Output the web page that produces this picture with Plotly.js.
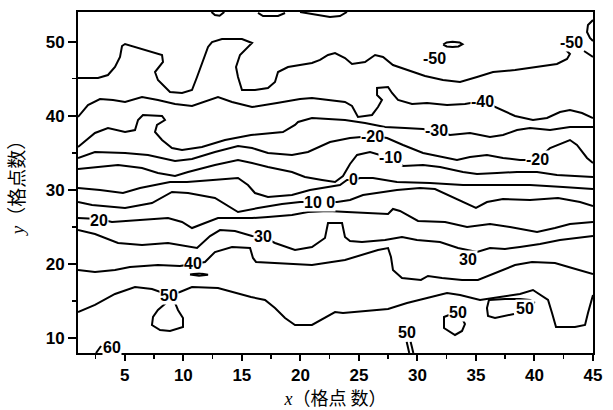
<!DOCTYPE html>
<html><head><meta charset="utf-8">
<script src="https://cdn.plot.ly/plotly-3.0.1.min.js"></script>
<style>html,body{margin:0;padding:0;background:#fff}</style>
</head><body><div id="chart" style="width:613px;height:410px"></div>
<script>
// Contour lines: [x, y] in grid units (null = gap)
const levelM50 = [[1.0,45.1],[2.71,45.1],[3.56,45.5],[4.16,46.58],[4.59,47.93],[4.76,49.41],[5.02,49.68],[6.72,48.87],[8.18,48.2],[8.26,47.26],[7.58,45.9],[7.83,44.83],[8.86,43.21],[9.89,43.07],[10.74,43.48],[11.17,45.23],[11.59,47.12],[12.11,49.28],[12.45,49.95],[13.3,50.36],[15.01,50.36],[15.87,49.82],[14.84,48.2],[14.5,46.58],[14.67,45.23],[15.01,43.48],[16.12,43.48],[17.23,43.75],[17.83,44.56],[18.09,45.9],[18.94,46.58],[19.97,46.85],[20.99,47.12],[21.68,47.53],[22.36,48.2],[22.96,48.47],[23.81,47.79],[24.41,46.99],[25.52,47.26],[26.38,48.2],[27.06,47.93],[27.91,46.85],[29.11,46.17],[30.65,45.37],[32.18,44.83],[33.64,44.56],[35.09,45.23],[36.46,45.9],[38.34,46.17],[40.73,46.72],[41.92,46.99],[42.78,47.66],[43.03,48.33],[42.69,48.87],[42.35,49.14],null,[44.23,48.74],[45.0,47.93]];
const levelM40 = [[1.0,39.84],[1.85,41.45],[2.88,42.26],[3.99,42.13],[5.02,41.86],[6.47,42.53],[7.83,42.13],[9.29,41.59],[10.74,41.32],[12.96,42.53],[14.16,41.86],[15.87,41.18],[18.0,41.72],[19.97,42.26],[20.99,42.4],[23.81,41.86],[24.41,41.32],[24.67,40.51],[24.92,39.84],[26.12,40.11],[26.63,41.18],[26.97,42.13],[26.55,42.8],[26.55,43.75],[27.49,43.88],[27.83,43.07],[28.34,42.13],[29.54,41.59],[30.82,41.72],[32.53,41.45],[34.06,41.59],[35.52,41.99],[37.23,40.78],[38.34,39.97],[39.87,39.43],[41.07,39.7],[42.18,40.51],[43.03,40.78],[44.06,40.38],[45.0,39.7]];
const levelM30 = [[1.0,35.79],[2.45,37.68],[3.56,38.35],[5.02,37.81],[5.87,38.08],[6.13,39.43],[6.55,40.11],[8.18,39.97],[8.43,39.43],[7.75,38.76],[7.58,37.81],[8.18,36.73],[9.03,35.65],[9.89,35.38],[11.59,35.79],[13.56,36.73],[15.78,37.41],[18.51,37.81],[19.54,38.76],[19.8,39.16],[20.99,39.7],[23.81,39.43],[25.52,39.03],[27.23,38.49],[28.94,38.35],[30.48,38.22],[31.59,37.95],[32.78,37.41],[34.49,37.68],[36.2,37.14],[37.31,37.41],[38.51,38.08],[39.62,38.35],[41.33,38.08],[43.03,38.49],[45.0,38.49]];
const levelM20 = [[1.0,34.31],[2.45,35.11],[5.02,34.98],[6.98,34.71],[9.29,33.9],[10.74,34.17],[12.7,35.11],[14.67,35.92],[15.87,35.65],[17.23,34.98],[19.28,34.71],[20.65,35.11],[22.53,36.46],[24.24,37.0],[26.2,37.27],[27.4,37.0],[28.77,36.06],[30.48,34.98],[33.38,34.04],[34.49,34.44],[35.94,34.71],[37.31,34.31],[38.76,34.04],[40.22,34.04],[41.33,35.65],[43.03,36.73],[43.63,36.06],[44.49,34.31],[45.0,33.63]];
const levelM10 = [[1.0,32.82],[2.45,33.09],[4.42,33.36],[6.47,32.96],[7.83,32.28],[9.29,31.88],[10.4,32.42],[12.7,33.36],[14.67,34.04],[15.87,33.63],[17.23,33.09],[19.28,32.42],[20.39,31.74],[21.85,31.34],[22.96,31.07],[23.64,31.88],[24.24,33.5],[24.84,34.71],[25.95,35.11],[27.66,34.31],[28.77,33.23],[30.48,33.36],[31.93,33.09],[33.89,32.42],[35.09,32.15],[36.8,32.28],[38.51,32.42],[40.22,32.42],[41.92,32.01],[45.0,31.74]];
const level0 = [[1.0,30.26],[2.88,29.99],[4.84,29.58],[6.3,30.26],[8.86,31.07],[10.31,31.07],[12.53,31.34],[14.67,31.61],[15.52,30.66],[16.12,29.58],[17.23,29.04],[19.28,29.31],[20.82,29.99],[22.36,30.39],[23.38,30.66],[23.98,31.34],[24.58,31.34],[25.09,31.61],[26.2,31.61],[28.25,31.07],[31.07,30.93],[33.89,30.66],[36.8,30.66],[39.62,30.66],[42.44,30.39],[45.0,30.12]];
const levelP10 = [[1.0,28.37],[2.2,27.96],[5.02,27.56],[7.32,28.23],[9.03,29.72],[10.4,29.58],[12.7,28.91],[14.67,27.02],[16.38,27.56],[18.43,28.1],[19.97,28.37],[21.59,28.37],[23.13,28.37],[24.24,28.64],[25.35,29.31],[28.25,29.99],[30.22,30.26],[31.5,30.12],[32.78,29.18],[35.0,27.56],[35.94,28.37],[37.31,28.77],[39.62,28.64],[42.01,28.91],[43.89,28.37],[45.0,27.83]];
const levelP20 = [[1.0,26.21],[2.79,26.08],[3.9,25.67],[6.47,25.94],[8.69,26.21],[9.89,25.67],[10.74,24.86],[11.85,25.54],[12.96,26.21],[14.67,26.21],[15.87,26.21],[17.23,26.35],[19.28,26.62],[20.65,27.02],[22.36,27.16],[23.98,27.02],[25.95,26.89],[27.49,26.75],[27.91,27.43],[28.51,27.16],[30.05,25.81],[32.36,25.67],[34.24,25.0],[36.2,25.4],[37.91,25.0],[40.22,24.32],[41.75,24.86],[43.03,25.4],[45.0,25.67]];
const levelP30 = [[1.0,24.59],[2.45,24.05],[4.42,22.84],[6.47,22.57],[8.69,22.84],[10.4,22.3],[11.17,22.16],[12.28,23.78],[13.13,24.59],[14.41,24.46],[15.87,23.78],[16.81,23.65],[17.83,22.84],[19.54,21.89],[20.99,22.3],[22.1,23.51],[22.36,25.54],[23.56,25.54],[23.81,23.65],[24.24,23.11],[25.26,22.97],[27.23,23.24],[28.68,23.65],[29.96,23.24],[31.93,22.97],[33.47,22.16],[35.09,21.62],[36.2,22.16],[37.48,22.03],[38.76,22.3],[40.47,22.7],[42.18,23.24],[43.72,23.51],[45.0,23.78]];
const levelP40 = [[1.0,19.2],[2.45,18.93],[4.16,19.2],[5.44,19.6],[7.83,19.87],[9.71,19.74],[10.83,20.01],[11.85,20.28],[12.7,21.62],[14.16,22.3],[15.7,22.16],[15.95,20.82],[16.21,20.28],[18.09,20.14],[20.99,19.87],[23.81,20.55],[25.26,21.22],[26.63,21.89],[27.49,22.16],[27.74,20.95],[27.91,19.2],[28.68,18.12],[30.3,17.85],[30.9,18.39],[32.1,18.12],[33.81,17.85],[35.17,17.85],[36.63,18.79],[38.34,19.87],[39.79,20.28],[41.75,20.14],[43.21,19.47],[45.0,18.66]];
const levelP50 = [[1.0,13.53],[2.45,14.48],[4.16,15.96],[5.87,16.9],[7.32,16.63],[8.77,15.82],[9.71,16.23],[10.74,16.9],[12.96,16.77],[14.24,16.23],[15.78,15.55],[16.98,15.15],[17.83,14.07],[18.69,12.72],[19.54,11.78],[20.99,11.78],[22.1,12.72],[22.96,13.53],[23.64,13.4],[25.26,13.67],[27.49,13.94],[29.11,14.75],[30.82,15.42],[32.53,16.09],[33.64,15.82],[35.35,15.15],[37.05,15.55],[38.76,15.96],[39.87,16.5],[41.16,15.15],[41.5,13.4],[41.84,11.51],[43.46,11.51],[44.32,11.78],[44.57,13.4],[45.0,15.82]];
// small closed / partial contours
const islandM60a = [[12.4,54.0],[12.7,53.6],[13.1,53.5],[13.5,54.0]];
const islandM60b = [[16.38,53.87],[16.81,53.46],[18.09,53.46],[18.69,53.87]];
const islandM60c = [[19.97,54.0],[21.51,53.6],[22.53,53.33],[23.38,53.46],[23.98,54.0]];
const islandM60d = [[45.0,52.92],[44.57,52.25],[44.49,51.3],[44.74,50.49],[45.0,50.09]];
const islandM60e = [[32.2,49.6],[32.5,49.9],[33.0,49.98],[33.6,49.9],[33.85,49.65],[33.5,49.35],[33.0,49.28],[32.5,49.35],[32.2,49.6]];
const island40 = [[10.57,18.6],[11.34,18.75],[12.11,18.55],[11.34,18.42],[10.57,18.6]];
const island50a = [[8.52,14.75],[7.83,13.8],[7.41,12.86],[7.32,11.78],[8.01,11.1],[8.86,10.97],[9.97,11.51],[9.97,12.72],[9.54,13.8],[9.29,14.75]];
const island50b = [[32.7,13.13],[32.27,12.86],[32.27,11.37],[33.21,10.43],[33.81,10.97],[34.06,11.91],[33.89,12.45]];
const island50c = [[38.25,13.26],[37.48,12.99],[36.63,12.72],[36.03,12.99],[35.94,14.07],[36.11,15.15],[37.48,15.28],[38.76,15.28],[39.62,15.15],[40.04,14.75]];
const island50d = [[29.08,9.52],[29.3,8.0],null,[29.42,9.52],[29.65,8.0]];
const island60 = [[2.54,8.0],[2.97,8.94]];

// Contour labels
const labelText = ["-50","-50","-40","-30","-20","-10","-20","0","10 0","20","30","30","40","50","50","50","50","60"];
const labelX    = [31.5, 43.2, 35.52, 31.59, 26.2, 27.66, 40.22, 24.58, 21.59, 2.79, 16.81, 34.32, 10.83, 8.77, 33.47, 39.19, 29.11, 3.9];
const labelY    = [47.79, 49.88, 41.99, 37.95, 37.14, 34.31, 34.04, 31.34, 28.37, 25.94, 23.65, 20.68, 20.01, 15.82, 13.4, 14.07, 10.83, 8.72];

const xTicks = [5,10,15,20,25,30,35,40,45];
const xMinor = [2.5,7.5,12.5,17.5,22.5,27.5,32.5,37.5,42.5];
const yTicks = [10,20,30,40,50];
const yMinor = [15,25,35,45];

const allLines = [levelM50, levelM40, levelM30, levelM20, levelM10, level0, levelP10, levelP20, levelP30, levelP40, levelP50,
  islandM60a, islandM60b, islandM60c, islandM60d, islandM60e, island40, island50a, island50b, island50c, island50d, island60];

const traces = allLines.map(pts => ({
  type: 'scatter', mode: 'lines',
  x: pts.map(p => p ? p[0] : null),
  y: pts.map(p => p ? p[1] : null),
  line: {color: '#000', width: 2},
  connectgaps: false, hoverinfo: 'skip', showlegend: false
}));

const annotations = labelText.map((t, i) => ({
  x: labelX[i], y: labelY[i], xref: 'x', yref: 'y', text: t, showarrow: false,
  bgcolor: '#fff', borderpad: 0,
  font: {family: 'Liberation Sans, Arial, sans-serif', size: 16, color: '#000', weight: 'bold'}
}));

const axisCommon = {
  showline: true, linecolor: '#000', linewidth: 2, mirror: true,
  ticks: 'outside', tickcolor: '#000', tickwidth: 2,
  showgrid: false, zeroline: false,
  tickfont: {family: 'Liberation Sans, Arial, sans-serif', size: 17, color: '#000', weight: 'bold'}
};

const layout = {
  width: 613, height: 410,
  margin: {l: 78, r: 20, t: 12, b: 57},
  paper_bgcolor: '#fff', plot_bgcolor: '#fff',
  showlegend: false,
  xaxis: Object.assign({}, axisCommon, {
    range: [1, 45], tickmode: 'array', tickvals: xTicks, ticklen: 6,
    minor: {tickmode: 'array', tickvals: xMinor, ticks: 'outside', ticklen: 4, tickwidth: 1.5, tickcolor: '#000', showgrid: false},
    title: {text: "<span style=\"font-family:'Liberation Serif'\"><i>x</i></span>（格点 数）",
            font: {family: 'Noto Sans CJK SC, sans-serif', size: 18, color: '#000'}, standoff: 13}
  }),
  yaxis: Object.assign({}, axisCommon, {
    range: [8, 54], tickmode: 'array', tickvals: yTicks, ticklen: 8,
    minor: {tickmode: 'array', tickvals: yMinor, ticks: 'outside', ticklen: 4, tickwidth: 1.5, tickcolor: '#000', showgrid: false},
    title: {text: "<span style=\"font-family:'Liberation Serif'\"><i>y</i></span>（格点数）",
            font: {family: 'Noto Sans CJK SC, sans-serif', size: 19, color: '#000'}, standoff: 16}
  }),
  annotations: annotations
};

Plotly.newPlot('chart', traces, layout, {staticPlot: true, displayModeBar: false});
</script></body></html>
